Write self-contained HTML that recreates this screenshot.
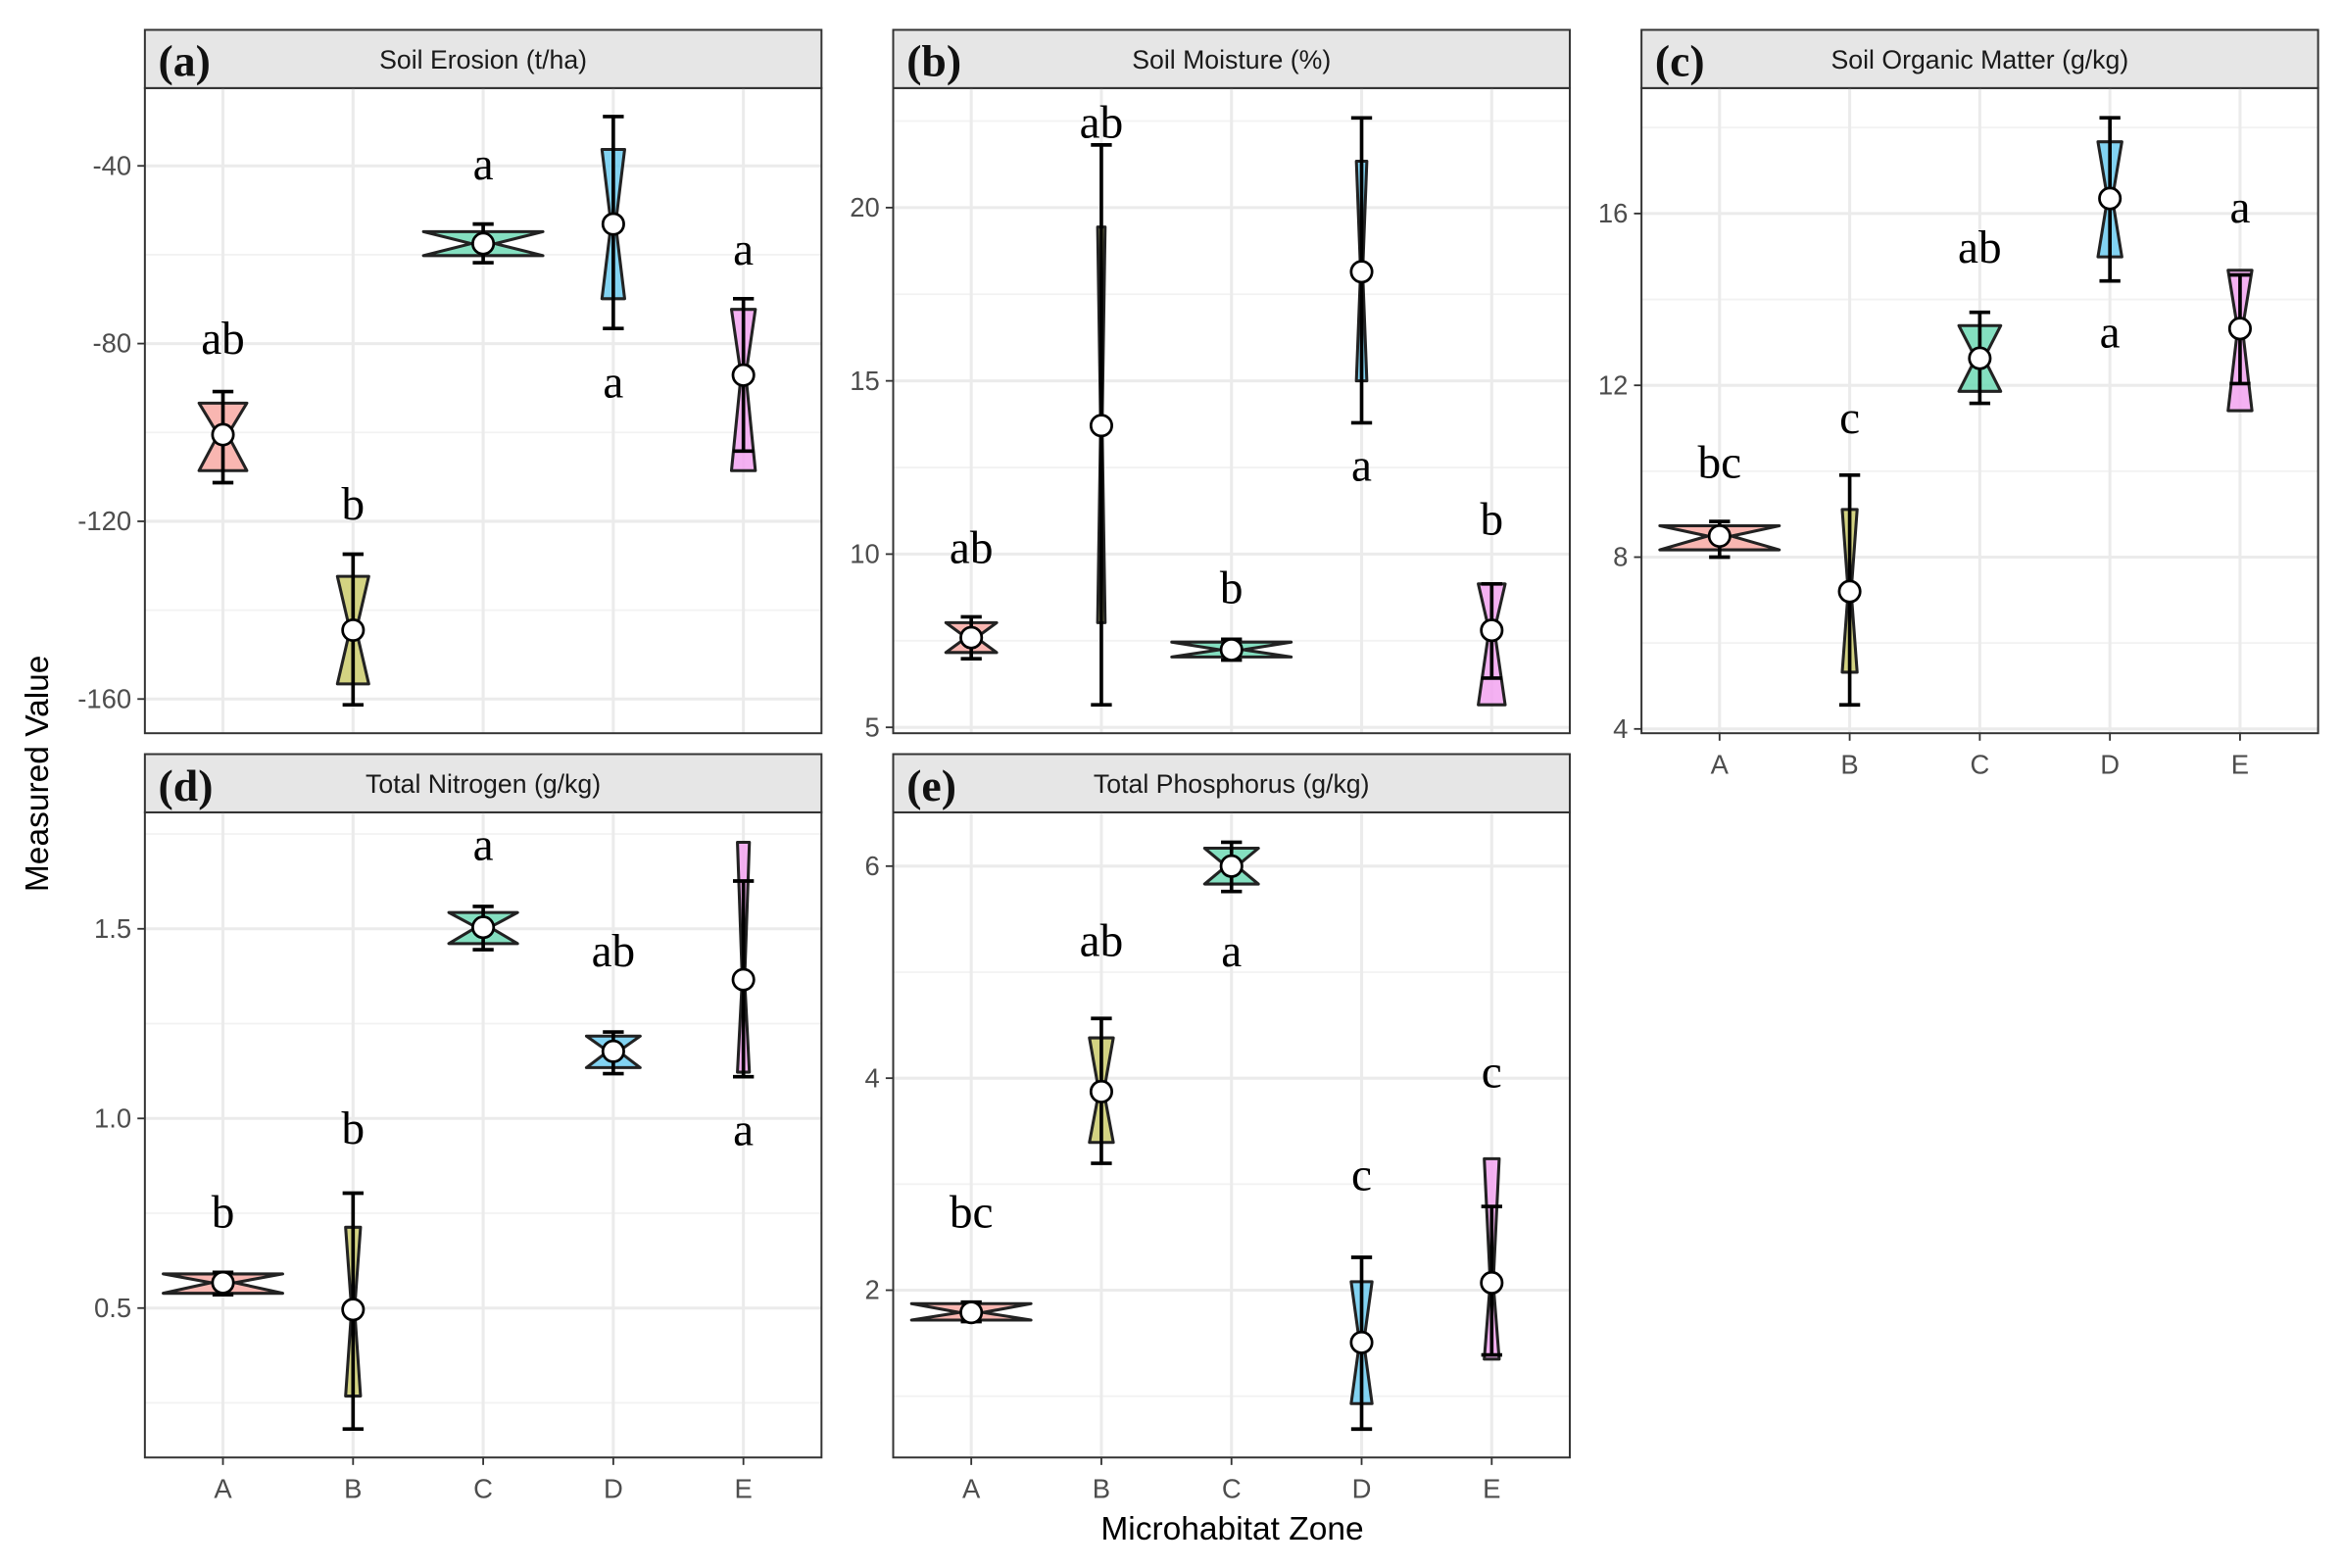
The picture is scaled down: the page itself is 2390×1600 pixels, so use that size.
<!DOCTYPE html>
<html><head><meta charset="utf-8"><style>
html,body{margin:0;padding:0;background:#fff;}
svg{display:block;}
</style></head><body>
<svg id="fig" xmlns="http://www.w3.org/2000/svg" width="2390" height="1600" viewBox="0 0 1568 1050" preserveAspectRatio="none"></svg>
<script>
const categories = ["A","B","C","D","E"];
const fills = ["#F8A9A3","#CBCB6C","#6FD9B5","#6CCBF0","#F2A3F0"];

// (a) Soil Erosion
const erosionLo   = [-111.3,-161.3,-61.8,-76.6,-104.2];
const erosionQ1   = [-108.6,-156.6,-60.2,-69.9,-108.6];
const erosionMed  = [-100.5,-144.5,-57.5,-53.1,-87.1];
const erosionQ3   = [-93.4,-132.4,-54.8,-36.3,-72.3];
const erosionHi   = [-90.8,-127.4,-53.1,-28.9,-69.9];
const erosionMean = [-100.5,-144.5,-57.5,-53.1,-87.1];
const erosionLetters = ["ab","b","a","a","a"];
const erosionLetterY = [-79.3,-116.6,-40,-89.1,-59.2];
const erosionTicks = [-40,-80,-120,-160];

// (b) Soil Moisture
const moistureLo   = [6.98,5.65,6.94,13.79,6.42];
const moistureQ1   = [7.16,8.02,7.03,15.0,5.65];
const moistureMed  = [7.59,13.71,7.24,18.15,7.8];
const moistureQ3   = [8.02,19.44,7.46,21.34,9.14];
const moistureHi   = [8.19,21.81,7.54,22.59,9.14];
const moistureMean = [7.59,13.71,7.24,18.15,7.8];
const moistureLetters = ["ab","ab","b","a","b"];
const moistureLetterY = [10.13,22.41,8.97,12.5,10.95];
const moistureTicks = [5,10,15,20];

// (c) Soil Organic Matter
const somLo   = [8.0,4.56,11.58,14.43,12.04];
const somQ1   = [8.17,5.32,11.86,14.99,11.41];
const somMed  = [8.49,7.2,12.63,16.35,13.32];
const somQ3   = [8.73,9.11,13.39,17.67,14.68];
const somHi   = [8.83,9.91,13.70,18.23,14.57];
const somMean = [8.49,7.2,12.63,16.35,13.32];
const somLetters = ["bc","c","ab","a","a"];
const somLetterY = [10.16,11.2,15.17,13.2,16.1];
const somTicks = [4,8,12,16];

// (d) Total Nitrogen
const tnLo   = [0.535,0.181,1.445,1.118,1.110];
const tnQ1   = [0.539,0.268,1.461,1.134,1.122];
const tnMed  = [0.567,0.496,1.504,1.177,1.366];
const tnQ3   = [0.590,0.713,1.543,1.217,1.728];
const tnHi   = [0.594,0.803,1.559,1.228,1.626];
const tnMean = [0.567,0.496,1.504,1.177,1.366];
const tnLetters = ["b","b","a","ab","a"];
const tnLetterY = [0.748,0.969,1.717,1.437,0.965];
const tnTicks = [0.5,1.0,1.5];

// (e) Total Phosphorus
const tpLo   = [1.704,3.197,5.761,0.69,1.39];
const tpQ1   = [1.718,3.394,5.831,0.93,1.35];
const tpMed  = [1.79,3.873,6.0,1.507,2.07];
const tpQ3   = [1.873,4.380,6.169,2.08,3.24];
const tpHi   = [1.887,4.563,6.225,2.31,2.79];
const tpMean = [1.79,3.873,6.0,1.507,2.07];
const tpLetters = ["bc","ab","a","c","c"];
const tpLetterY = [2.72,5.28,5.18,3.07,4.04];
const tpTicks = [2,4,6];

const NS="http://www.w3.org/2000/svg";
const svg=document.getElementById('fig');
function mk(tag,attrs,parent,text){const e=document.createElementNS(NS,tag);for(const k in attrs)e.setAttribute(k,attrs[k]);if(text!==undefined)e.textContent=text;(parent||svg).appendChild(e);return e;}

const panels=[
 {key:"a",title:"Soil Erosion (t/ha)",x:97,y:20,dom:[-167.7,-22.5],ticks:erosionTicks,minor:[-60,-100,-140],fmt:v=>String(v),xlab:false,lo:erosionLo,q1:erosionQ1,med:erosionMed,q3:erosionQ3,hi:erosionHi,mean:erosionMean,let:erosionLetters,ly:erosionLetterY,hw:[16,10.5,40,7.6,8]},
 {key:"b",title:"Soil Moisture (%)",x:598,y:20,dom:[4.83,23.45],ticks:moistureTicks,minor:[7.5,12.5,17.5,22.5],fmt:v=>String(v),xlab:false,lo:moistureLo,q1:moistureQ1,med:moistureMed,q3:moistureQ3,hi:moistureHi,mean:moistureMean,let:moistureLetters,ly:moistureLetterY,hw:[17,2.5,40,3.5,9]},
 {key:"c",title:"Soil Organic Matter (g/kg)",x:1099,y:20,dom:[3.90,18.92],ticks:somTicks,minor:[6,10,14,18],fmt:v=>String(v),xlab:true,lo:somLo,q1:somQ1,med:somMed,q3:somQ3,hi:somHi,mean:somMean,let:somLetters,ly:somLetterY,hw:[40,5,14,8,8]},
 {key:"d",title:"Total Nitrogen (g/kg)",x:97,y:505,dom:[0.106,1.807],ticks:tnTicks,minor:[0.25,0.75,1.25,1.75],fmt:v=>v.toFixed(1),xlab:true,lo:tnLo,q1:tnQ1,med:tnMed,q3:tnQ3,hi:tnHi,mean:tnMean,let:tnLetters,ly:tnLetterY,hw:[40,5,23,18,4]},
 {key:"e",title:"Total Phosphorus (g/kg)",x:598,y:505,dom:[0.422,6.507],ticks:tpTicks,minor:[1,3,5],fmt:v=>String(v),xlab:true,lo:tpLo,q1:tpQ1,med:tpMed,q3:tpQ3,hi:tpHi,mean:tpMean,let:tpLetters,ly:tpLetterY,hw:[40,8,18,7,5]}
];
const PW=453, SH=39, PH=432;
panels.forEach(p=>{
  const g=mk('g',{});
  
  
  const top=p.y+SH, bot=top+PH;
  const ys=v=>bot-(v-p.dom[0])/(p.dom[1]-p.dom[0])*PH;
  const xs=i=>p.x+(i+0.6)*PW/5.2;
  const st=mk('rect',{x:p.x,y:p.y,width:PW,height:SH,fill:'#E6E6E6',stroke:'#333',"stroke-width":1.3},g);
  
  
  const pl=mk('text',{x:p.x+9,y:p.y+31,"font-family":"Liberation Serif, serif","font-weight":"bold","font-size":30,fill:'#111'},g,'('+p.key+')');
  
  
  const tt=mk('text',{x:p.x+PW/2,y:p.y+26,"text-anchor":"middle","font-family":"Liberation Sans, sans-serif","font-size":17.5,fill:'#1a1a1a'},g,p.title);
  
  
  p.minor.forEach(v=>{const y=ys(v);if(y>top&&y<bot)mk('line',{x1:p.x,x2:p.x+PW,y1:y,y2:y,stroke:'#F2F2F2',"stroke-width":1.2},g);});
  p.ticks.forEach(v=>{const y=ys(v);
    const gl=mk('line',{x1:p.x,x2:p.x+PW,y1:y,y2:y,stroke:'#EBEBEB',"stroke-width":2},g);
    
    
    mk('line',{x1:p.x-5,x2:p.x,y1:y,y2:y,stroke:'#333',"stroke-width":1.2},g);
    const tl=mk('text',{x:p.x-9,y:y+6,"text-anchor":"end","font-family":"Liberation Sans, sans-serif","font-size":18,fill:'#4D4D4D'},g,p.fmt(v));
    
    
  });
  categories.forEach((c,i)=>{const x=xs(i);
    mk('line',{x1:x,x2:x,y1:top,y2:bot,stroke:'#EBEBEB',"stroke-width":2},g);
    if(p.xlab){
      mk('line',{x1:x,x2:x,y1:bot,y2:bot+5,stroke:'#333',"stroke-width":1.2},g);
      const xl=mk('text',{x:x,y:bot+27,"text-anchor":"middle","font-family":"Liberation Sans, sans-serif","font-size":18,fill:'#4D4D4D'},g,c);
      
      
    }
  });
  const fr=mk('rect',{x:p.x,y:top,width:PW,height:PH,fill:'none',stroke:'#333',"stroke-width":1.3},g);
  
  
  categories.forEach((c,i)=>{
    const x=xs(i), w=p.hw[i], f=0.2;
    const q1=ys(p.q1[i]), q3=ys(p.q3[i]), md=ys(p.med[i]);
    const pts=[[x-w,q3],[x-w*f,md],[x-w,q1],[x+w,q1],[x+w*f,md],[x+w,q3]].map(a=>a.join(',')).join(' ');
    const bx=mk('polygon',{points:pts,fill:fills[i],"fill-opacity":0.85,stroke:'#222',"stroke-width":2,"stroke-linejoin":"round"},g);
    
    
    const lo=ys(p.lo[i]), hi=ys(p.hi[i]), cw=7;
    const eb=mk('path',{d:`M${x},${lo}V${hi}M${x-cw},${lo}H${x+cw}M${x-cw},${hi}H${x+cw}`,stroke:'#000',"stroke-width":2.4,fill:'none'},g);
    
    
    const mn=mk('circle',{cx:x,cy:ys(p.mean[i]),r:7,fill:'#fff',stroke:'#000',"stroke-width":1.8},g);
    
    
    const lt=mk('text',{x:x,y:ys(p.ly[i])+9,"text-anchor":"middle","font-family":"Liberation Serif, serif","font-size":31,fill:'#000'},g,p.let[i]);
    
    
  });
});
const yt=mk('text',{x:0,y:0,transform:'translate(32,518) rotate(-90)',"text-anchor":"middle","font-family":"Liberation Sans, sans-serif","font-size":22,fill:'#000'},svg,'Measured Value');


const xt=mk('text',{x:825,y:1031,"text-anchor":"middle","font-family":"Liberation Sans, sans-serif","font-size":22,fill:'#000'},svg,'Microhabitat Zone');


</script>
</body></html>
